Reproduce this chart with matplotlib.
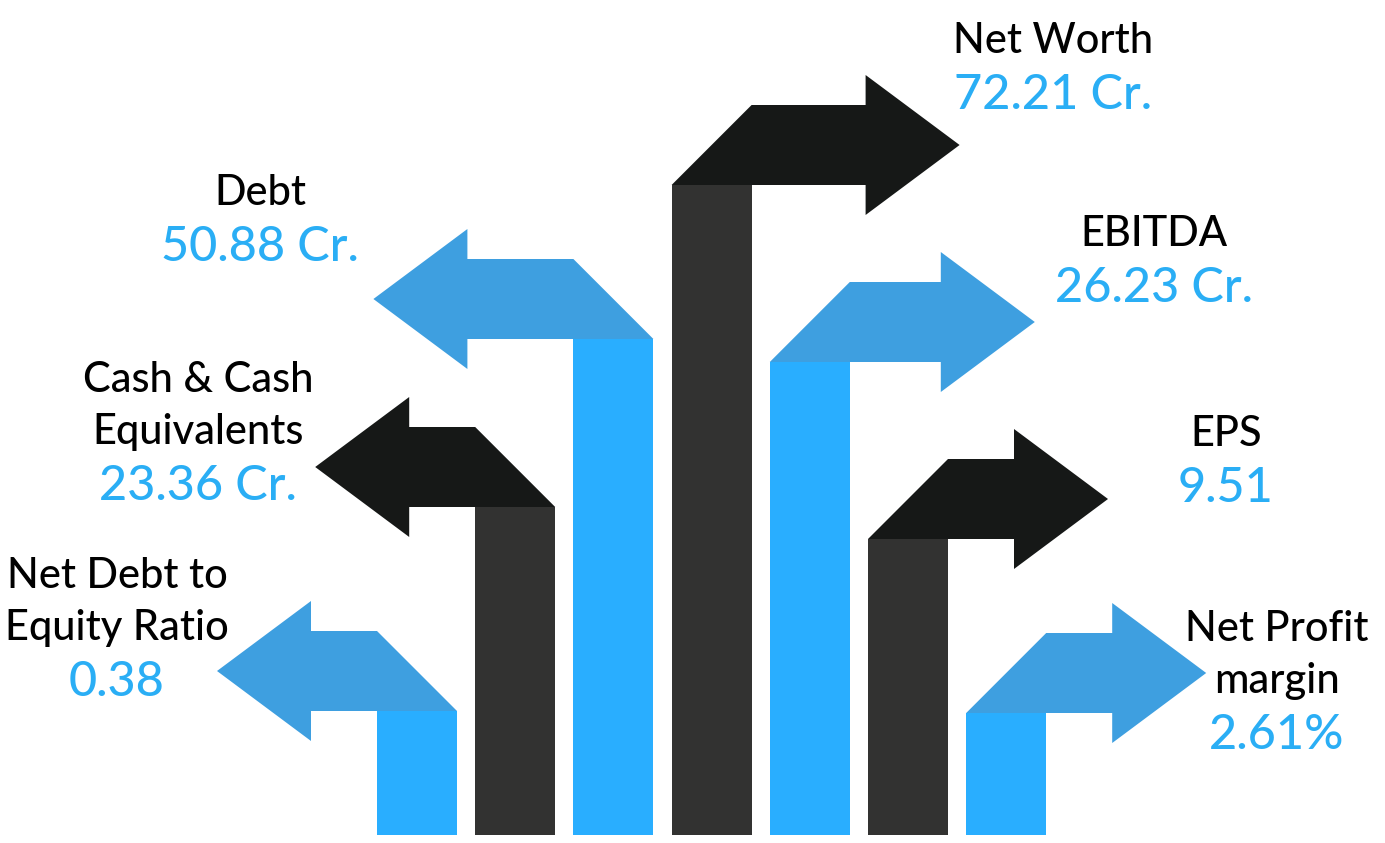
import matplotlib.pyplot as plt
from matplotlib.patches import Polygon, Rectangle

# data
labels = ["Net Debt to\nEquity Ratio", "Cash & Cash\nEquivalents", "Debt", "Net Worth",
          "EBITDA", "EPS", "Net Profit\nmargin"]
values = ["0.38", "23.36 Cr.", "50.88 Cr.", "72.21 Cr.", "26.23 Cr.", "9.51", "2.61%"]
bar_heights = [124, 328, 496, 650, 473, 296, 122]
directions = [-1, -1, -1, 1, 1, 1, 1]

# layout (pixel space)
bar_left0, bar_step, bar_w, base = 377, 98.2, 80, 835
shafts = [66, 66, 106, 114, 91, 66, 66]
text_x = [117, 198, 260, 1053, 1154, 1226, 1277]
text_y = [588, 392, 205, 53, 246, 446, 641]

bar_cols = ["#29aeff", "#323231"]
arrow_cols = ["#3e9fe0", "#161817"]
value_col = "#2aaef5"

plt.rcParams['font.family'] = ['Lato', 'DejaVu Sans']

fig = plt.figure(figsize=(13.85, 8.43), dpi=100)
ax = fig.add_axes([0, 0, 1, 1])
ax.set_xlim(0, 1385)
ax.set_ylim(843, 0)
ax.axis('off')

thick, over, head = 80, 30, 94
for i, (h, d) in enumerate(zip(bar_heights, directions)):
    L = bar_left0 + i * bar_step
    R = L + bar_w
    T = base - h
    ax.add_patch(Rectangle((L, T), bar_w, h, facecolor=bar_cols[i % 2], edgecolor='none'))
    if d > 0:
        hb = R + shafts[i]
        pts = [(L, T), (R, T - thick), (hb, T - thick), (hb, T - thick - over),
               (hb + head, T - thick / 2), (hb, T + over), (hb, T), (L, T)]
    else:
        hb = L - shafts[i]
        pts = [(R, T), (L, T - thick), (hb, T - thick), (hb, T - thick - over),
               (hb - head, T - thick / 2), (hb, T + over), (hb, T), (R, T)]
    ax.add_patch(Polygon(pts, closed=True, facecolor=arrow_cols[i % 2], edgecolor='none'))

line_gap, value_gap = 52, 56
for lab, val, x, y in zip(labels, values, text_x, text_y):
    lines = lab.split("\n")
    for k, ln in enumerate(lines):
        ax.text(x, y + k * line_gap, ln, ha='center', va='baseline',
                fontsize=30, color='black', fontweight='medium')
    ax.text(x, y + (len(lines) - 1) * line_gap + value_gap, val, ha='center',
            va='baseline', fontsize=35, color=value_col, fontweight='medium')

fig.savefig("out.png", dpi=100)
